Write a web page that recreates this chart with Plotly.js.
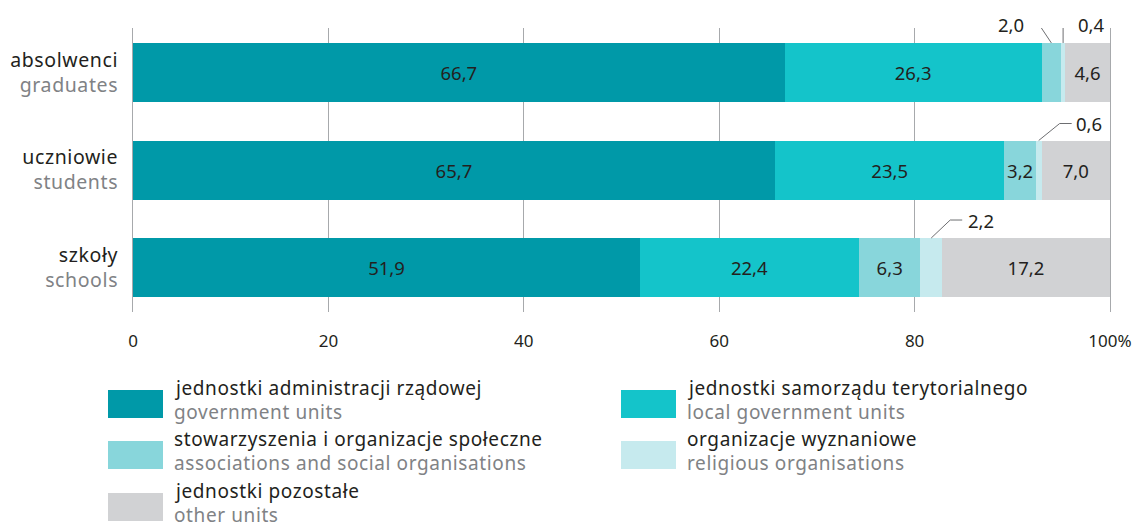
<!DOCTYPE html>
<html>
<head>
<meta charset="utf-8">
<script src="https://cdn.plot.ly/plotly-3.0.1.min.js"></script>
<style>html,body{margin:0;padding:0;background:#fff;}#chart{width:1138px;height:525px;}</style>
</head>
<body>
<div id="chart"></div>
<script>
const categoriesPl = ['absolwenci', 'uczniowie', 'szkoły'];
const categoriesEn = ['graduates', 'students', 'schools'];

const seriesPl = ['jednostki administracji rządowej', 'jednostki samorządu terytorialnego', 'stowarzyszenia i organizacje społeczne', 'organizacje wyznaniowe', 'jednostki pozostałe'];
const seriesEn = ['government units', 'local government units', 'associations and social organisations', 'religious organisations', 'other units'];

const govUnits = [66.7, 65.7, 51.9];
const localGovUnits = [26.3, 23.5, 22.4];
const associations = [2.0, 3.2, 6.3];
const religious = [0.4, 0.6, 2.2];
const otherUnits = [4.6, 7.0, 17.2];

const xTickVals = [0, 20, 40, 60, 80, 100];
const xTickText = ['0', '20', '40', '60', '80', '100%'];

const allSeries = [govUnits, localGovUnits, associations, religious, otherUnits];
const colors = ['#0099a8', '#14c4ca', '#88d6db', '#c6eaee', '#d1d2d4'];

const FONT = 'Noto Sans, sans-serif';
const DARK = '#231f20';
const GREY = '#808285';
const BAR_W = 0.605;
const LS = 'letter-spacing:0.6px';

const W = 1138, H = 525;
const M = { l: 133, r: 28, t: 28, b: 213 };
const X_RANGE = [0, 100];
const Y_RANGE = [2.456, -0.456];
const pxPerX = (W - M.l - M.r) / (X_RANGE[1] - X_RANGE[0]);
const pxPerY = (H - M.t - M.b) / (Y_RANGE[0] - Y_RANGE[1]);

function fmt(v) { return v.toFixed(1).replace('.', ','); }

const catIdx = categoriesPl.map((_, i) => i);

const traces = allSeries.map((vals, s) => ({
  type: 'bar',
  orientation: 'h',
  name: seriesPl[s],
  y: catIdx,
  x: vals,
  width: BAR_W,
  marker: { color: colors[s], line: { width: 0 } },
  text: vals.map(v => v >= 3 ? fmt(v) : ''),
  textposition: 'inside',
  insidetextanchor: 'middle',
  textangle: 0,
  constraintext: 'none',
  textfont: { family: FONT, size: 18.5, color: DARK },
  hoverinfo: 'x+name',
  showlegend: false
}));

// callouts for small segments: category index, series index, leader offsets in px (right, up)
const callouts = [
  { c: 0, s: 2, pts: [[0, 0], [-12, 18], [-23, 18]], dx: -25, dy: 18, anchor: 'right' },
  { c: 0, s: 3, pts: [[0, 0], [0, 18], [10, 18]], dx: 13, dy: 18, anchor: 'left' },
  { c: 1, s: 3, pts: [[0, 0], [21, 17], [33, 17]], dx: 35, dy: 17, anchor: 'left' },
  { c: 2, s: 3, pts: [[0, 0], [19, 18], [31, 18]], dx: 35, dy: 18, anchor: 'left' }
];

const shapes = [];
const annotations = [];
callouts.forEach(co => {
  let start = 0;
  for (let k = 0; k < co.s; k++) start += allSeries[k][co.c];
  const v = allSeries[co.s][co.c];
  const mid = start + v / 2;
  const top = co.c - BAR_W / 2;
  traces.push({
    type: 'scatter', mode: 'lines',
    x: co.pts.map(p => mid + p[0] / pxPerX),
    y: co.pts.map(p => top - p[1] / pxPerY),
    line: { color: '#6d6e71', width: 1 },
    cliponaxis: false, showlegend: false, hoverinfo: 'none'
  });
  annotations.push({
    xref: 'x', yref: 'y', x: mid, y: top,
    xshift: co.dx, yshift: co.dy,
    xanchor: co.anchor, yanchor: 'middle',
    text: fmt(v), showarrow: false,
    font: { family: FONT, size: 18.5, color: DARK }
  });
});

// legend (custom, two columns)
const legendPos = [
  { x: -25, y: -78 }, { x: 488, y: -78 },
  { x: -25, y: -129 }, { x: 488, y: -129 },
  { x: -25, y: -181 }
];
seriesPl.forEach((name, s) => {
  const p = legendPos[s];
  shapes.push({
    type: 'rect', xref: 'paper', yref: 'paper',
    xsizemode: 'pixel', ysizemode: 'pixel',
    xanchor: 0, yanchor: 0,
    x0: p.x, x1: p.x + 55, y0: p.y, y1: p.y - 28,
    fillcolor: colors[s], line: { width: 0 }
  });
  annotations.push({
    xref: 'paper', yref: 'paper', x: 0, y: 0,
    xshift: p.x + 64, yshift: p.y + 2,
    xanchor: 'left', yanchor: 'middle', align: 'left',
    showarrow: false, text: '<span style="' + LS + '">' + name + '</span>',
    font: { family: FONT, size: 19, color: DARK }
  });
  annotations.push({
    xref: 'paper', yref: 'paper', x: 0, y: 0,
    xshift: p.x + 64, yshift: p.y - 22,
    xanchor: 'left', yanchor: 'middle', align: 'left',
    showarrow: false, text: '<span style="' + LS + '">' + seriesEn[s] + '</span>',
    font: { family: FONT, size: 19, color: GREY }
  });
});

const layout = {
  width: W, height: H,
  margin: M,
  paper_bgcolor: '#fff', plot_bgcolor: '#fff',
  barmode: 'stack',
  separators: ',.',
  font: { family: FONT, size: 18, color: DARK },
  xaxis: {
    range: X_RANGE,
    tickvals: xTickVals, ticktext: xTickText,
    showgrid: true, gridcolor: '#a7a9ac', gridwidth: 1,
    zeroline: false, showline: false,
    ticks: 'outside', ticklen: 14, tickcolor: 'rgba(0,0,0,0)',
    tickfont: { family: FONT, size: 17, color: DARK },
    fixedrange: true
  },
  yaxis: {
    range: Y_RANGE,
    tickvals: catIdx,
    ticktext: categoriesPl.map((c, i) => '<span style="' + LS + '">' + c + '</span><br><span style="color:' + GREY + ';' + LS + '">' + categoriesEn[i] + '</span>'),
    showgrid: false, zeroline: false,
    showline: true, mirror: true, linecolor: '#a7a9ac', linewidth: 1,
    ticks: 'outside', ticklen: 10, tickcolor: 'rgba(0,0,0,0)',
    tickfont: { family: FONT, size: 19.5, color: DARK },
    fixedrange: true
  },
  shapes: shapes,
  annotations: annotations,
  showlegend: false
};

Plotly.newPlot('chart', traces, layout, { displayModeBar: false, staticPlot: true });
</script>
</body>
</html>
